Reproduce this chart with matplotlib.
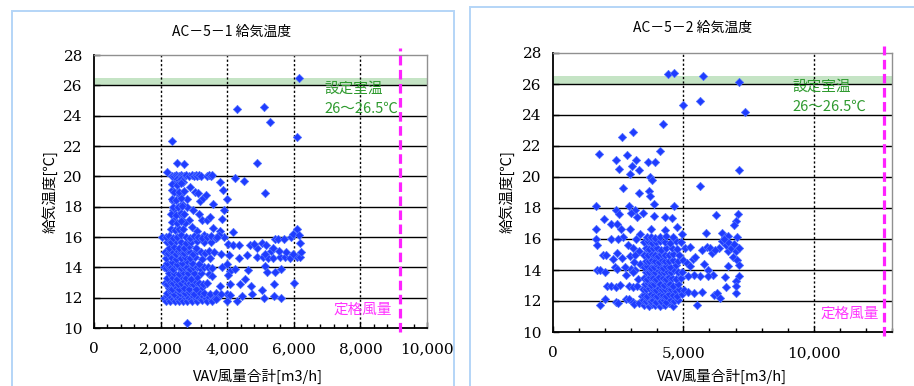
import matplotlib
matplotlib.use('Agg')
import matplotlib.pyplot as plt
from matplotlib.patches import Rectangle
from matplotlib.ticker import MultipleLocator

JP = ['Noto Sans CJK JP', 'DejaVu Sans']
SERIF = 'DejaVu Serif'

# ---------------- data ----------------
titles = ['AC－5－1 給気温度', 'AC－5－2 給気温度']
x_label = 'VAV風量合計[m3/h]'
y_label = '給気温度[℃]'
band_low, band_high = 26.0, 26.5
note_text = '設定室温\n26～26.5℃'
rated_text = '定格風量'
rated_flow = [9200, 12700]
x_max = [10000, 13000]
x_ticks = [[0, 2000, 4000, 6000, 8000, 10000], [0, 5000, 10000]]
x_minor = [400, 1000]
y_ticks = [10, 12, 14, 16, 18, 20, 22, 24, 26, 28]

# AC-5-1 (x = VAV flow [m3/h], y = supply temp [C])
ac51_points = [
    # outliers
    (6150, 26.5), (4290, 24.45), (5110, 24.6), (5280, 23.6), (6110, 22.6), (2350, 22.3),
    (2480, 20.9), (2700, 20.8), (4880, 20.9), (2190, 20.3), (5140, 18.9), (4240, 19.9),
    (4510, 19.7), (3770, 19.6), (3870, 19.1), (3990, 18.5), (3570, 18.2), (2800, 10.3),
    (6010, 13.0), (2050, 16.0),
    # upper scatter 16-20
    (2380, 18.4), (2370, 17.75), (2400, 17.1), (2550, 17.5), (2650, 17.1), (2610, 16.4),
    (2880, 19.3), (3030, 19.0), (3130, 18.9), (3180, 18.4), (3280, 18.6), (3360, 18.75),
    (2980, 17.75), (3140, 17.5), (3230, 17.1), (3380, 17.1), (2930, 16.65), (3560, 16.6),
    (2860, 17.1), (2780, 18.0), (2630, 18.2), (2480, 19.0), (2330, 19.1), (2580, 18.8),
    (2780, 18.5), (2430, 19.6), (2660, 19.6), (2730, 16.9), (3080, 16.4), (3290, 16.1),
    (3780, 16.4), (3830, 17.2), (3900, 17.75), (3490, 17.3),
    # row at 20
    (2350, 20.05), (2400, 20.0), (2450, 20.1), (2500, 20.0), (2550, 20.05), (2600, 20.1),
    (2650, 20.0), (2700, 20.05), (2750, 20.1), (2850, 20.05), (2950, 20.1), (3000, 20.0),
    (3050, 20.1), (3100, 20.05), (3150, 20.1), (3200, 20.0), (3400, 20.05), (3450, 20.1),
    (3500, 20.05), (3550, 20.1), (2500, 19.8), (2550, 19.75), (2600, 19.8), (2650, 19.7),
    # column 2300-2700
    (2300, 16.5), (2420, 16.45), (2560, 16.55), (2680, 16.5), (2350, 17.0), (2480, 16.95),
    (2620, 17.05), (2300, 17.5), (2450, 17.45), (2600, 17.55), (2700, 17.5), (2380, 18.0),
    (2520, 17.95), (2650, 18.05), (2330, 18.5), (2470, 18.45), (2610, 18.55), (2400, 19.0),
    (2550, 18.95), (2700, 19.05), (2350, 19.5), (2500, 19.45), (2620, 19.55),
    # core 12
    (2100, 12.0), (2150, 11.8), (2180, 12.1), (2250, 11.9), (2280, 11.75), (2320, 12.05),
    (2380, 11.9), (2420, 11.8), (2440, 12.1), (2500, 11.95), (2540, 11.75), (2560, 12.05),
    (2620, 11.9), (2680, 11.8), (2690, 12.1), (2750, 11.95), (2800, 11.75), (2820, 12.05),
    (2900, 11.9), (2950, 11.8), (2980, 12.1), (3050, 11.95), (3100, 11.8), (3130, 12.05),
    (3200, 11.9), (3250, 11.85), (3280, 12.1), (3360, 11.95), (3400, 11.8), (3450, 12.05),
    (3530, 11.9), (3550, 11.8), (3620, 12.0), (3700, 11.95),
    (2200, 12.3), (2300, 12.4), (2400, 12.25), (2470, 12.5), (2580, 12.3), (2650, 12.45),
    (2730, 12.3), (2860, 12.4), (3000, 12.25), (3150, 12.35), (3300, 12.3), (3480, 12.25),
    (3650, 12.3), (2250, 12.65), (2350, 12.6), (2450, 12.7), (2550, 12.6), (2700, 12.65),
    (2850, 12.55), (3050, 12.6), (3250, 12.7),
    # core 13
    (2120, 13.0), (2200, 12.9), (2290, 13.05), (2370, 12.95), (2450, 13.1), (2530, 12.9),
    (2610, 13.0), (2700, 13.1), (2780, 12.95), (2870, 13.0), (2960, 12.9), (3060, 13.05),
    (3160, 13.0), (3260, 12.9), (3380, 13.0), (2180, 13.3), (2330, 13.35), (2480, 13.25),
    (2600, 13.4), (2750, 13.3), (2900, 13.25), (3100, 13.35),
    # core 14
    (2250, 13.6), (2400, 13.65), (2550, 13.55), (2680, 13.7), (2820, 13.6), (3000, 13.65),
    (3200, 13.6), (3450, 13.55), (2100, 14.0), (2170, 13.95), (2240, 14.05), (2310, 14.0),
    (2380, 13.9), (2460, 14.1), (2540, 14.0), (2620, 13.95), (2700, 14.05), (2790, 14.0),
    (2880, 13.9), (2980, 14.05), (3080, 14.0), (3180, 13.95), (3300, 14.05), (3420, 14.0),
    (3550, 13.95), (2200, 14.3), (2350, 14.35), (2500, 14.25), (2640, 14.3), (2780, 14.4),
    (2950, 14.3), (3150, 14.25),
    # core 15
    (2150, 14.6), (2300, 14.65), (2450, 14.55), (2600, 14.6), (2720, 14.7), (2870, 14.6),
    (3030, 14.65), (3250, 14.55), (3480, 14.6), (2130, 15.0), (2210, 14.95), (2290, 15.05),
    (2370, 15.0), (2450, 14.9), (2530, 15.1), (2610, 15.0), (2700, 14.95), (2790, 15.05),
    (2880, 15.0), (2980, 14.9), (3080, 15.05), (3200, 15.0), (3330, 14.95), (3460, 15.05),
    (3600, 15.0), (2250, 15.3), (2400, 15.35), (2550, 15.25), (2700, 15.3), (2850, 15.4),
    (3050, 15.3),
    # core 16
    (2180, 15.7), (2320, 15.65), (2460, 15.75), (2600, 15.7), (2760, 15.6), (2920, 15.7),
    (3100, 15.75), (3300, 15.65), (3500, 15.7), (2150, 16.0), (2260, 16.05), (2380, 15.95),
    (2500, 16.0), (2620, 16.1), (2750, 16.0), (2880, 15.95), (3000, 16.05), (3120, 16.0),
    (3250, 15.95), (3380, 16.0), (3520, 16.05), (3650, 15.95),
    # sparse right part
    (3990, 11.8), (4290, 11.75), (4450, 12.1), (4740, 12.25), (5110, 12.0), (5410, 12.1),
    (5610, 12.0), (3990, 12.25), (4090, 12.2), (3810, 12.25), (3670, 11.9),
    (3770, 12.8), (4070, 12.9), (4370, 12.9), (4530, 13.2), (4720, 12.8), (5040, 12.5),
    (5420, 12.9), (3550, 13.4),
    (3850, 14.0), (3980, 14.2), (4080, 13.75), (4230, 13.9), (4630, 13.8), (5140, 14.1),
    (5190, 13.7), (5440, 13.7), (5630, 13.9), (4030, 13.5),
    (3800, 14.9), (4060, 14.8), (4360, 14.6), (4600, 14.8), (4890, 14.7), (5080, 14.7),
    (5230, 14.6), (5380, 14.6), (5590, 14.7), (5730, 14.7), (5880, 14.6), (6110, 14.7),
    (6180, 14.7), (6230, 15.0), (5980, 14.9), (5780, 15.0), (5560, 15.1), (5330, 15.1),
    (5130, 14.9), (4880, 15.3),
    (4020, 15.55), (4180, 15.5), (4340, 15.5), (4670, 15.5), (4800, 15.55), (5060, 15.6),
    (5160, 15.5), (5380, 15.3), (5440, 15.85), (5540, 15.9), (5700, 15.9), (5920, 16.0),
    (5980, 16.2), (6110, 16.55), (6150, 16.15), (6180, 15.6), (3900, 16.0), (3750, 16.1),
    (3680, 16.0), (4180, 16.3),
]

# AC-5-2
ac52_points = [
    # outliers
    (4420, 26.65), (4650, 26.7), (5770, 26.5), (7150, 26.1), (4970, 24.65), (5640, 24.9),
    (7370, 24.2), (4200, 23.45), (3080, 22.9), (2640, 22.55), (4090, 21.7), (1780, 21.5),
    (2410, 21.1), (2820, 21.45), (3190, 21.1), (3650, 21.0), (3920, 20.95), (2530, 20.5),
    (2940, 20.2), (3030, 20.7), (3280, 20.45), (7150, 20.45), (3720, 20.0), (3800, 19.8),
    (5640, 19.45), (2690, 19.3), (3280, 19.0), (3680, 19.1), (3720, 18.8), (3870, 18.25),
    (4650, 18.15), (1640, 18.15), (2900, 18.15), (3140, 17.9), (2420, 17.9), (2540, 17.6),
    (3010, 17.65), (3240, 17.4), (3470, 17.7), (3890, 17.5), (4310, 17.45), (4580, 17.35),
    (1970, 17.3), (2240, 16.95), (2460, 16.95), (2590, 16.65), (2950, 16.65), (3760, 16.65),
    (4300, 16.6), (4770, 16.75), (1640, 16.65), (2700, 16.15), (4950, 16.35),
    (6260, 17.55), (7100, 17.6), (7030, 17.15), (6960, 16.9), (5880, 16.4), (6470, 16.4),
    (6600, 16.1), (6730, 16.2), (7050, 16.15),
    # left side 1600-3400
    (1640, 16.0), (1690, 15.6), (1920, 15.0), (2050, 15.0), (2470, 15.1), (2240, 16.0),
    (2500, 16.0), (2860, 15.6), (3080, 15.4), (2940, 14.9), (2760, 14.2), (2370, 14.2),
    (2440, 14.05), (1680, 14.0), (1800, 14.0), (2010, 13.9), (2800, 13.7), (3010, 14.05),
    (3140, 14.0), (2080, 13.0), (2240, 12.95), (2420, 12.9), (2560, 13.05), (2900, 12.95),
    (3080, 12.9), (3230, 13.0), (1800, 11.75), (1990, 12.1), (2410, 11.95), (2500, 11.85),
    (2800, 12.15), (2920, 12.1), (3060, 11.95), (3120, 11.8), (3310, 11.9), (2310, 14.7),
    (2630, 14.8), (3300, 15.2), (3350, 14.4), (3250, 13.4), (3400, 12.3), (3350, 16.3),
    (3200, 16.0), (3150, 15.0), (3100, 14.5), (3050, 13.9),
    # dense core 3400-5000
    (3500, 11.75), (3600, 11.85), (3700, 11.7), (3800, 11.8), (3900, 11.75), (4000, 11.85),
    (4100, 11.7), (4200, 11.8), (4300, 11.75), (4450, 11.85), (4600, 11.7),
    (3450, 12.05), (3550, 12.0), (3650, 12.1), (3750, 12.0), (3850, 12.05), (3950, 11.95),
    (4050, 12.1), (4150, 12.0), (4250, 12.05), (4350, 11.95), (4500, 12.1), (4650, 12.0),
    (4800, 12.05),
    (3500, 12.4), (3620, 12.35), (3740, 12.45), (3860, 12.4), (3980, 12.3), (4100, 12.45),
    (4220, 12.4), (4340, 12.35), (4460, 12.45), (4600, 12.4), (4750, 12.3), (4950, 12.45),
    (3450, 12.8), (3580, 12.75), (3700, 12.85), (3820, 12.8), (3940, 12.7), (4060, 12.85),
    (4180, 12.8), (4300, 12.75), (4420, 12.85), (4540, 12.8), (4680, 12.7), (4850, 12.8),
    (3520, 13.1), (3640, 13.15), (3760, 13.05), (3880, 13.1), (4000, 13.2), (4120, 13.1),
    (4240, 13.05), (4360, 13.15), (4480, 13.1), (4620, 13.0), (4780, 13.1),
    (3480, 13.5), (3600, 13.45), (3720, 13.55), (3840, 13.5), (3960, 13.4), (4080, 13.55),
    (4200, 13.5), (4320, 13.45), (4450, 13.55), (4580, 13.5), (4720, 13.4), (4900, 13.5),
    (3550, 13.9), (3670, 13.85), (3790, 13.95), (3910, 13.9), (4030, 14.0), (4150, 13.9),
    (4270, 13.85), (4390, 13.95), (4510, 13.9), (4640, 14.0), (4800, 13.85), (4950, 13.9),
    (3500, 14.2), (3620, 14.25), (3740, 14.15), (3860, 14.2), (3980, 14.3), (4100, 14.2),
    (4220, 14.15), (4350, 14.25), (4500, 14.2), (4700, 14.3),
    (3550, 14.6), (3680, 14.55), (3800, 14.65), (3920, 14.6), (4050, 14.5), (4180, 14.65),
    (4300, 14.6), (4450, 14.55), (4600, 14.65), (4800, 14.6),
    (3500, 15.0), (3650, 14.95), (3780, 15.05), (3900, 15.0), (4030, 14.9), (4160, 15.05),
    (4300, 15.0), (4450, 14.95), (4620, 15.05), (4850, 15.0),
    (3550, 15.4), (3700, 15.35), (3850, 15.45), (4000, 15.4), (4150, 15.3), (4350, 15.45),
    (4550, 15.4), (4750, 15.35),
    (3500, 15.8), (3650, 15.85), (3800, 15.75), (3950, 15.8), (4100, 15.9), (4300, 15.8),
    (4500, 15.75), (4700, 15.85), (4900, 15.8),
    (3600, 16.1), (3750, 16.15), (3900, 16.05), (4100, 16.1), (4350, 16.2), (4600, 16.1),
    # right side 5000-7300
    (5060, 15.45), (5260, 15.5), (5000, 14.65), (5130, 14.45), (5260, 14.25), (5350, 14.7),
    (5450, 14.85), (5640, 13.6), (5420, 13.7), (5190, 13.6), (5040, 12.7), (5190, 12.55),
    (5420, 12.5), (5700, 12.55), (5510, 11.75), (5700, 15.3), (5900, 15.5), (6030, 15.4),
    (6090, 15.1), (5790, 14.4), (5950, 14.0), (6140, 13.65), (5950, 13.6), (6170, 12.4),
    (6270, 12.5), (6420, 12.2), (6580, 13.55), (6640, 12.9), (6700, 15.2), (6830, 15.4),
    (6960, 15.7), (7030, 15.25), (7130, 15.45), (6900, 14.85), (7050, 14.65), (7130, 14.3),
    (7150, 13.6), (7000, 13.3), (7030, 12.5), (7000, 12.95), (6700, 14.25), (6470, 15.9),
    (6630, 15.6), (6730, 15.8), (6540, 16.0), (6350, 15.4), (6220, 15.3),
]

# ---------------- drawing ----------------
fig = plt.figure(figsize=(9.14, 3.86), dpi=100)
W, H = 914.0, 386.0

# panel frames
fig.patches.append(Rectangle((12 / W, -0.05), (454 - 12) / W, 1.05 - 11 / H,
                             transform=fig.transFigure, fill=False,
                             edgecolor='#b4d5f7', lw=1.4))
fig.patches.append(Rectangle((470 / W, -0.05), 0.6, 1.05 - 7 / H,
                             transform=fig.transFigure, fill=False,
                             edgecolor='#b4d5f7', lw=1.4))

ax_boxes = [
    (94, 55, 427, 328),
    (553, 53, 892, 332),
]
title_pos = [(232, 32), (693, 28)]
ylabel_x = [50, 507]
xlabel_pos = [(258, 376), (722, 376)]
note_pos = [(6930, 25.1), (9190, 25.2)]
rated_pos = [(7180, 11.2), (10250, 11.2)]

datasets = [ac51_points, ac52_points]

for i in range(2):
    x0, y0, x1, y1 = ax_boxes[i]
    ax = fig.add_axes([x0 / W, 1 - y1 / H, (x1 - x0) / W, (y1 - y0) / H])
    ax.set_xlim(0, x_max[i])
    ax.set_ylim(10, 28)
    ax.set_facecolor('white')

    ax.axhspan(band_low, band_high, color='#c5e4c5', zorder=0, lw=0)
    for y in y_ticks[1:-1]:
        ax.axhline(y, color='black', lw=1.0, zorder=1)
    for xv in x_ticks[i][1:]:
        if xv < x_max[i]:
            ax.axvline(xv, color='black', lw=1.0, ls=(0, (1.6, 1.6)), zorder=1)

    pts = datasets[i]
    xs = [p[0] for p in pts]
    ys = [p[1] for p in pts]
    ax.scatter(xs, ys, marker='D', s=18, facecolor='#1f3cff',
               edgecolor='#5070ff', linewidths=0.5, zorder=3)

    ax.plot([rated_flow[i], rated_flow[i]], [9.75, 28.45], color='#ff22ff',
            lw=2.3, ls=(0, (3.0, 1.4)), clip_on=False, zorder=4)

    ax.text(note_pos[i][0], note_pos[i][1], note_text, family=JP, fontsize=10.5,
            color='#2e9a2e', ha='left', va='center', linespacing=1.55, zorder=5)
    ax.text(rated_pos[i][0], rated_pos[i][1], rated_text, family=JP, fontsize=10.5,
            color='#ff33ff', ha='left', va='center', zorder=5)

    ax.set_yticks(y_ticks)
    ax.set_yticklabels([str(v) for v in y_ticks], fontsize=11, family=SERIF)
    ax.set_xticks(x_ticks[i])
    ax.set_xticklabels([f'{v:,}' for v in x_ticks[i]], fontsize=11, family=SERIF)
    ax.xaxis.set_minor_locator(MultipleLocator(x_minor[i]))
    ax.tick_params(axis='both', which='major', direction='in', length=4,
                   width=1, colors='black')
    ax.tick_params(axis='x', which='major', pad=10)
    ax.tick_params(axis='y', which='major', pad=8)
    ax.tick_params(axis='x', which='minor', direction='in', length=3, width=1)
    for s in ['left', 'bottom']:
        ax.spines[s].set_color('black')
        ax.spines[s].set_linewidth(1.3)
    for s in ['top', 'right']:
        ax.spines[s].set_color('#909090')
        ax.spines[s].set_linewidth(1.0)

    fig.text(title_pos[i][0] / W, 1 - title_pos[i][1] / H, titles[i], family=JP,
             fontsize=10, ha='center', va='center')
    fig.text(ylabel_x[i] / W, 1 - 192 / H, y_label, family=JP, fontsize=10.5,
             rotation=90, ha='center', va='center')
    fig.text(xlabel_pos[i][0] / W, 1 - xlabel_pos[i][1] / H, x_label, family=JP,
             fontsize=10.5, ha='center', va='center')

fig.savefig('out.png', dpi=100)
